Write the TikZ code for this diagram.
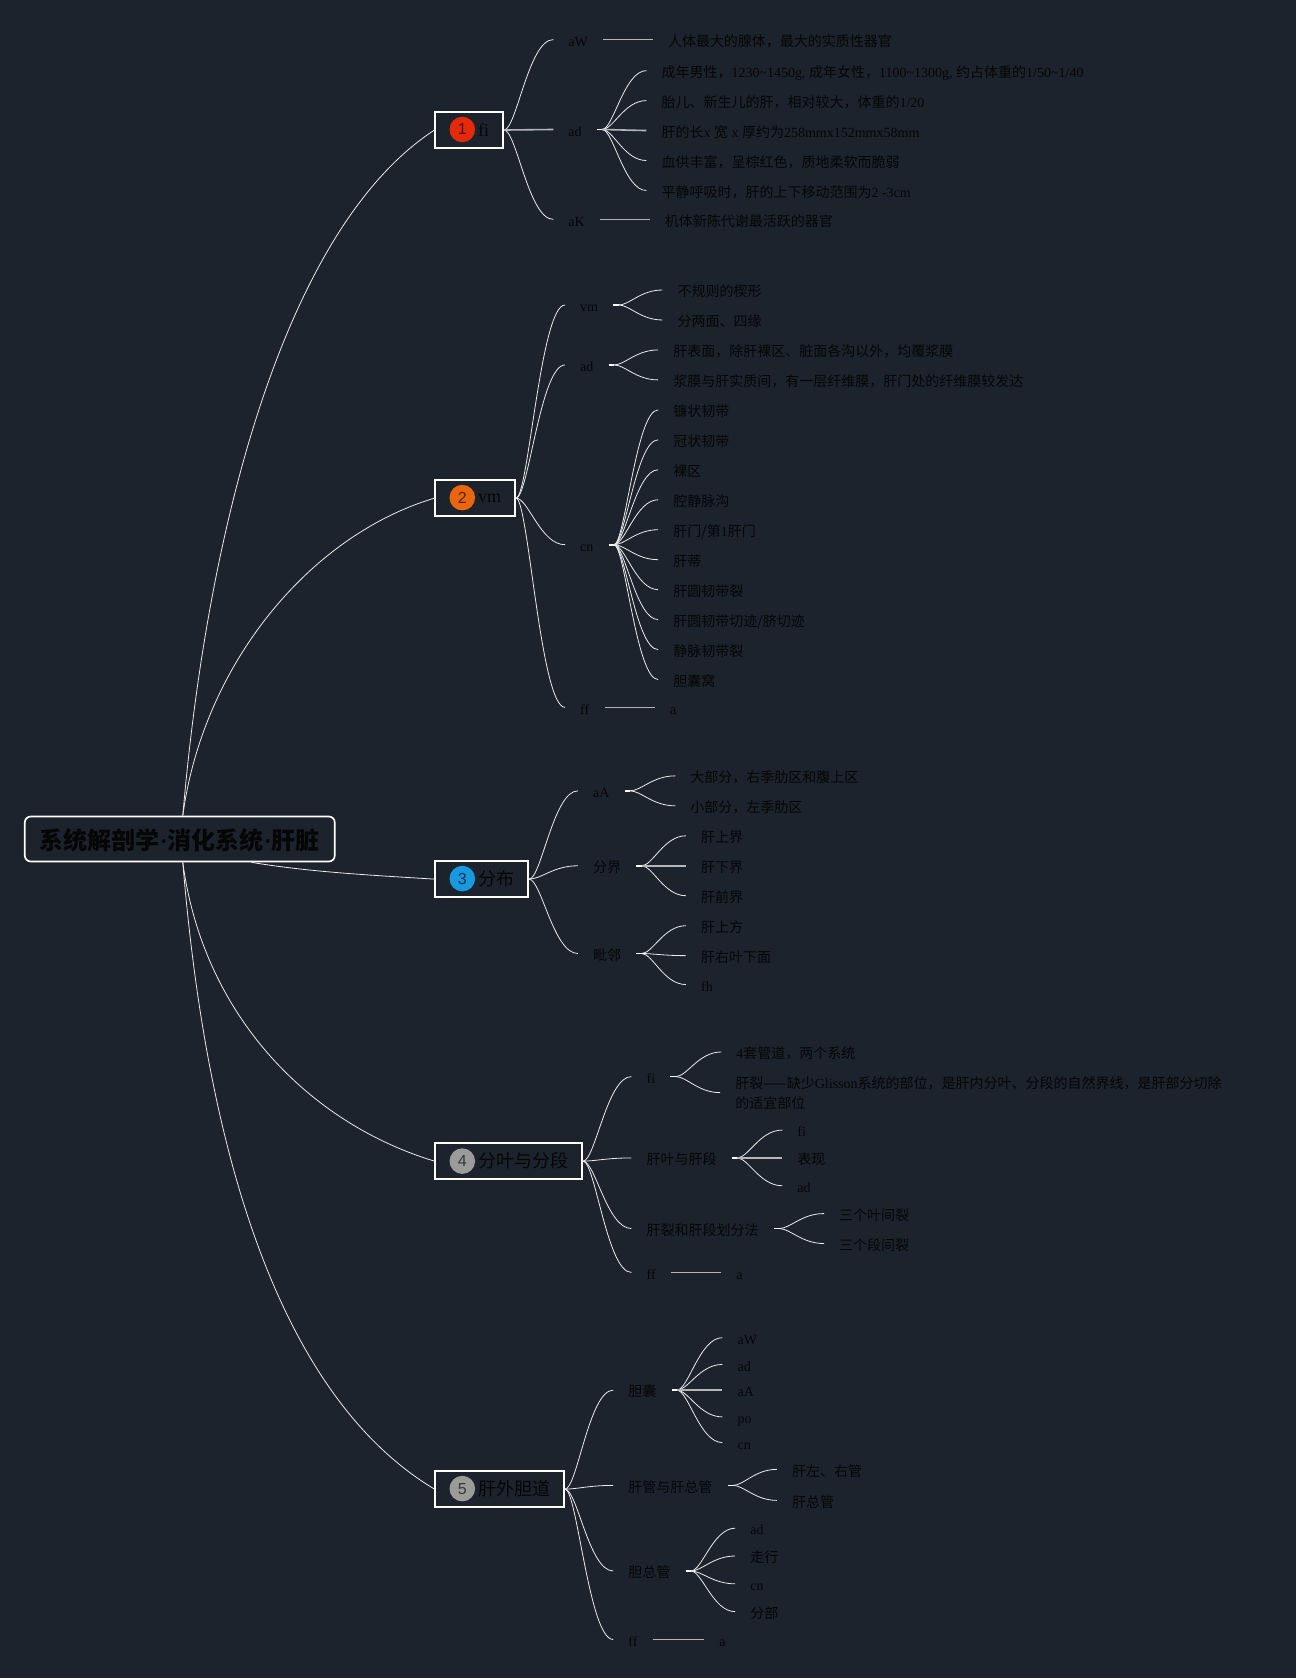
\documentclass[tikz,border=0pt]{standalone}
\usepackage{fontspec}
\setmainfont{Liberation Serif}
\newfontfamily\cjk{Noto Sans CJK SC}
\newfontfamily\badgefont{Liberation Sans}
\usetikzlibrary{calc}
\definecolor{bgc}{HTML}{1C232C}
\definecolor{ink}{HTML}{060606}
\definecolor{strk}{HTML}{B4B6B8}
\definecolor{bred}{HTML}{E42A0B}
\definecolor{borange}{HTML}{EA650D}
\definecolor{bblue}{HTML}{1799DF}
\definecolor{bgray}{HTML}{9B9B9B}
\newcommand\la[1]{{\rmfamily #1}}
\newcommand\curve[2]{\draw[lk] (#1) .. controls ($(#1)!0.25!(#2 |- #1)$) and ($(#2)!0.5!(#1 |- #2)$) .. (#2);}
\newcommand\fan[2]{\coordinate (#1s) at ([xshift=5.3pt]#1.east);
  \draw[stub] (#1.east) -- (#1s);
  \foreach \c in {#2} {\curve{#1s}{\c.west}}}
\newcommand\kids[2]{\foreach \c in {#2} {\curve{#1.east}{\c.west}}}
\tikzset{
  lk/.style={draw=white!92!black,line width=0.8pt},
  st/.style={draw=strk,line width=1.6pt},
  stub/.style={draw=white,line width=1.6pt},
  lab/.style={anchor=west,inner xsep=15pt,inner ysep=1pt,text=ink,text height=16pt,text depth=2.6pt,
     font=\cjk\fontsize{14}{20}\selectfont},
  rootbox/.style={draw=white,line width=1.7pt,rounded corners=6pt,fill=bgc,text=ink,anchor=center,
     minimum width=310pt,minimum height=45pt,inner sep=0pt,text height=23pt,text depth=2pt,
     font=\cjk\bfseries\fontsize{24}{28}\selectfont},
  topbox/.style={draw=white,line width=2pt,fill=bgc,text=ink,anchor=west,minimum height=35.5pt,
     inner xsep=13.86pt,inner ysep=0pt,font=\cjk\fontsize{18}{22}\selectfont},
  badge/.style={circle,minimum size=25.6pt,inner sep=0pt,text=black,text opacity=0.65,font=\badgefont\fontsize{16}{16}\selectfont},
}
\begin{document}
\begin{tikzpicture}[x=1.0702pt,y=-1.0702pt]
\path[use as bounding box,fill=bgc] (0,0) rectangle (1211,1568);

% root and main branches
\node[rootbox] (root) at (168,784) {系统解剖学\la{·}消化系统\la{·}肝脏};
\node[topbox] (n1) at (406,121.5) {\hspace{28.84pt}\la{fi}};
\node[topbox] (n2) at (406,465.5) {\hspace{28.84pt}\la{vm}};
\node[topbox] (n3) at (406,821.5) {\hspace{28.84pt}分布};
\node[topbox] (n4) at (406,1085) {\hspace{28.84pt}分叶与分段};
\node[topbox] (n5) at (406,1391.5) {\hspace{28.84pt}肝外胆道};
\node[badge,fill=bred] (b1) at (432,121) {1};
\node[badge,fill=borange] (b2) at (432,465) {2};
\node[badge,fill=bblue] (b3) at (432,821) {3};
\node[badge,fill=bgray] (b4) at (432,1085) {4};
\node[badge,fill=bgray] (b5) at (432,1391) {5};

\draw[lk] ([xshift=3pt]root.north) .. controls (195,480) and (270,210) .. (n1.west);
\draw[lk] ([xshift=3pt]root.north) .. controls (190,620) and (290,500) .. (n2.west);
\draw[lk] ([xshift=71.7pt]root.south) .. controls (290,815) and (350,818) .. (n3.west);
\draw[lk] ([xshift=3pt]root.south) .. controls (190,950) and (290,1050) .. (n4.west);
\draw[lk] ([xshift=3pt]root.south) .. controls (195,1100) and (270,1310) .. (n5.west);

% branch 1
\node[lab] (a1) at (517,37) {\la{aW}};
\node[lab] (a2) at (517,121) {\la{ad}};
\node[lab] (a3) at (517,205) {\la{aK}};
\node[lab] (a1x) at (610,37) {人体最大的腺体，最大的实质性器官};
\node[lab] (a2a) at (604,66) {成年男性，\la{1230\textasciitilde 1450g, }成年女性，\la{1100\textasciitilde 1300g, }约占体重的\la{1/50\textasciitilde 1/40}};
\node[lab] (a2b) at (604,94) {胎儿、新生儿的肝，相对较大，体重的\la{1/20}};
\node[lab] (a2c) at (604,122) {肝的长\la{x }宽\la{ x }厚约为\la{258mmx152mmx58mm}};
\node[lab] (a2d) at (604,150) {血供丰富，呈棕红色，质地柔软而脆弱};
\node[lab] (a2e) at (604,178) {平静呼吸时，肝的上下移动范围为\la{2 -3cm}};
\node[lab] (a3x) at (607,205) {机体新陈代谢最活跃的器官};
\kids{n1}{a1,a3}
\draw[st] (n1.east) -- (a2.west);
\draw[st] (a1.east) -- (a1x.west);
\draw[st] (a3.east) -- (a3x.west);
\fan{a2}{a2a,a2b,a2d,a2e}
\draw[st] (a2s) -- (a2c.west);

% branch 2
\node[lab] (c1) at (528,285) {\la{vm}};
\node[lab] (c2) at (528,341) {\la{ad}};
\node[lab] (c3) at (528,509) {\la{cn}};
\node[lab] (c4) at (528,661) {\la{ff}};
\node[lab] (c1a) at (619,271) {不规则的楔形};
\node[lab] (c1b) at (619,299) {分两面、四缘};
\node[lab] (c2a) at (615,327) {肝表面，除肝裸区、脏面各沟以外，均覆浆膜};
\node[lab] (c2b) at (615,355) {浆膜与肝实质间，有一层纤维膜，肝门处的纤维膜较发达};
\node[lab] (c3a) at (615,383) {镰状韧带};
\node[lab] (c3b) at (615,411) {冠状韧带};
\node[lab] (c3c) at (615,439) {裸区};
\node[lab] (c3d) at (615,467) {腔静脉沟};
\node[lab] (c3e) at (615,495) {肝门/第\la{1}肝门};
\node[lab] (c3f) at (615,523) {肝蒂};
\node[lab] (c3g) at (615,551) {肝圆韧带裂};
\node[lab] (c3h) at (615,579) {肝圆韧带切迹/脐切迹};
\node[lab] (c3i) at (615,607) {静脉韧带裂};
\node[lab] (c3j) at (615,635) {胆囊窝};
\node[lab] (c4x) at (612,661) {\la{a}};
\kids{n2}{c1,c2,c3,c4}
\fan{c1}{c1a,c1b}
\fan{c2}{c2a,c2b}
\fan{c3}{c3a,c3b,c3c,c3d,c3e,c3f,c3g,c3h,c3i,c3j}
\draw[st] (c4.east) -- (c4x.west);

% branch 3
\node[lab] (d1) at (540,739) {\la{aA}};
\node[lab] (d2) at (540,809) {分界};
\node[lab] (d3) at (540,891) {毗邻};
\node[lab] (d1a) at (631,725) {大部分，右季肋区和腹上区};
\node[lab] (d1b) at (631,753) {小部分，左季肋区};
\node[lab] (d2a) at (641,781) {肝上界};
\node[lab] (d2b) at (641,809) {肝下界};
\node[lab] (d2c) at (641,837) {肝前界};
\node[lab] (d3a) at (641,865) {肝上方};
\node[lab] (d3b) at (641,893) {肝右叶下面};
\node[lab] (d3c) at (641,920) {\la{fh}};
\kids{n3}{d1,d2,d3}
\fan{d1}{d1a,d1b}
\fan{d2}{d2a,d2c}
\draw[st] (d2s) -- (d2b.west);
\fan{d3}{d3a,d3b,d3c}

% branch 4
\node[lab] (e1) at (590,1006) {\la{fi}};
\node[lab] (e2) at (590,1082) {肝叶与肝段};
\node[lab] (e3) at (590,1148) {肝裂和肝段划分法};
\node[lab] (e4) at (590,1189) {\la{ff}};
\node[lab] (e1a) at (674,983) {\la{4}套管道，两个系统};
\node[lab,align=left,text height=,text depth=] (e1b) at (673,1021) {肝裂——缺少\la{Glisson}系统的部位，是肝内分叶、分段的自然界线，是肝部分切除\\的适宜部位};
\node[lab] (e2a) at (731,1056) {\la{fi}};
\node[lab] (e2b) at (731,1082) {表现};
\node[lab] (e2c) at (731,1108) {\la{ad}};
\node[lab] (e3a) at (770,1134) {三个叶间裂};
\node[lab] (e3b) at (770,1162) {三个段间裂};
\node[lab] (e4x) at (674,1189) {\la{a}};
\kids{n4}{e1,e2,e3,e4}
\fan{e1}{e1a,e1b}
\fan{e2}{e2a,e2c}
\draw[st] (e2s) -- (e2b.west);
\fan{e3}{e3a,e3b}
\draw[st] (e4.east) -- (e4x.west);

% branch 5
\node[lab] (f1) at (573,1299) {胆囊};
\node[lab] (f2) at (573,1388) {肝管与肝总管};
\node[lab] (f3) at (573,1468) {胆总管};
\node[lab] (f4) at (573,1532) {\la{ff}};
\node[lab] (f1a) at (675,1250) {\la{aW}};
\node[lab] (f1b) at (675,1275) {\la{ad}};
\node[lab] (f1c) at (675,1299) {\la{aA}};
\node[lab] (f1d) at (675,1324) {\la{po}};
\node[lab] (f1e) at (675,1348) {\la{cn}};
\node[lab] (f2a) at (726,1373) {肝左、右管};
\node[lab] (f2b) at (726,1402) {肝总管};
\node[lab] (f3a) at (687,1428) {\la{ad}};
\node[lab] (f3b) at (687,1454) {走行};
\node[lab] (f3c) at (687,1480) {\la{cn}};
\node[lab] (f3d) at (687,1506) {分部};
\node[lab] (f4x) at (658,1532) {\la{a}};
\kids{n5}{f1,f2,f3,f4}
\fan{f1}{f1a,f1b,f1d,f1e}
\draw[st] (f1s) -- (f1c.west);
\fan{f2}{f2a,f2b}
\fan{f3}{f3a,f3b,f3c,f3d}
\draw[st] (f4.east) -- (f4x.west);
\end{tikzpicture}
\end{document}
